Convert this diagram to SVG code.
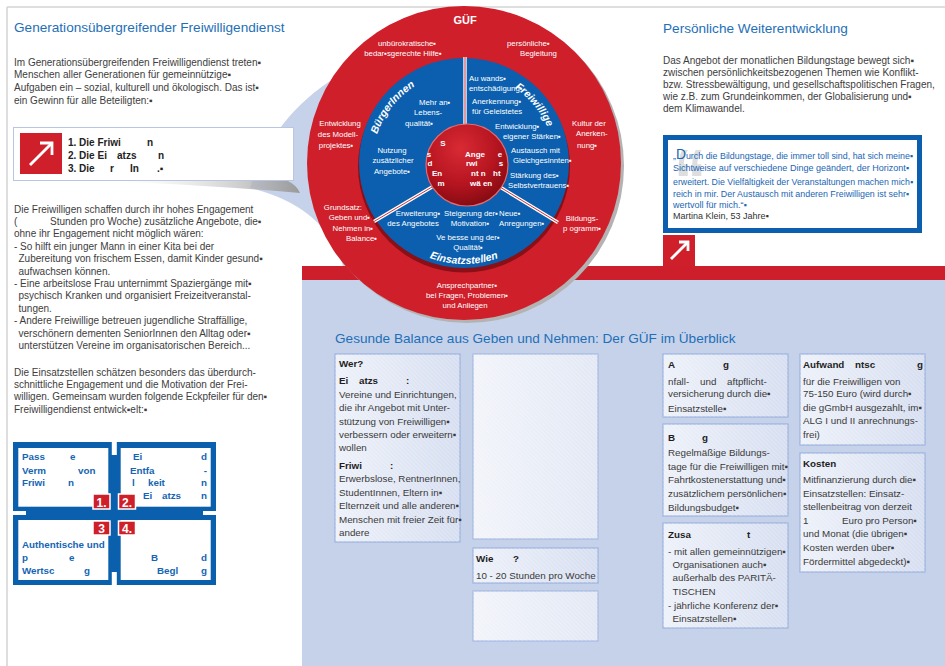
<svg xmlns="http://www.w3.org/2000/svg" width="945" height="666" viewBox="0 0 945 666">
<defs>
<style>
text{font-family:"Liberation Sans",Arial,sans-serif}
.h{font-size:13.6px;fill:#1e6fb7}
.p{font-size:10px;fill:#3d3d3d}
.n{font-size:10px;font-weight:bold;fill:#222}
.g{font-size:9.8px;font-weight:bold;fill:#1565b3}
.w{font-size:7.8px;fill:#fff}
.wb{font-size:8px;font-weight:bold;fill:#fff}
.c{text-anchor:middle}
.e{text-anchor:end}
.q{font-size:9px;fill:#1a66b4}
.t{font-size:9.8px;fill:#3a3a3a}
.th{font-size:9.8px;font-weight:bold;fill:#1e1e1e}
.arc{font-size:10.5px;font-weight:bold;font-style:italic;fill:#fff}
.bf{fill:url(#boxg);stroke:#9cb2de;stroke-width:1.2}
.bh{fill:url(#hatch)}
.div{stroke:#fff;stroke-width:3.4;fill:none}
.divi{stroke:#c0202a;stroke-width:0.9;fill:none}
.arw{stroke:#fff;stroke-width:2.8;fill:none}
.badge{fill:#cf1f2b;stroke:#fff;stroke-width:1.5}
.bn{font-size:12px;font-weight:bold;fill:#fff;text-anchor:middle}
</style>
<linearGradient id="boxg" x1="0" y1="0" x2="1" y2="0">
<stop offset="0" stop-color="#edf1f9"/><stop offset="1" stop-color="#d6def0"/>
</linearGradient>
<linearGradient id="boxf" x1="0" y1="0" x2="1" y2="0">
<stop offset="0" stop-color="#f2f4fa"/><stop offset="1" stop-color="#e2e8f4"/>
</linearGradient>
<pattern id="hatch" width="3" height="3" patternUnits="userSpaceOnUse" patternTransform="rotate(-45)">
<line x1="0" y1="0" x2="0" y2="3" stroke="#ffffff" stroke-width="1" opacity="0.45"/>
</pattern>
<radialGradient id="inner" cx="0.42" cy="0.3" r="0.75">
<stop offset="0" stop-color="#d92a35"/><stop offset="0.6" stop-color="#b4141f"/><stop offset="1" stop-color="#7e0a10"/>
</radialGradient>
<linearGradient id="shad" x1="0" y1="0" x2="1" y2="0">
<stop offset="0" stop-color="#ffffff" stop-opacity="0"/><stop offset="1" stop-color="#9a9a9a"/>
</linearGradient>
<path id="pBurg" d="M 376.5 136.2 A 91 91 0 0 1 425.5 80.5"/>
<path id="pFrei" d="M 512.2 86.5 A 91 91 0 0 1 553.6 147.2"/>
<path id="pEins" d="M 413.5 250.5 A 101 101 0 0 0 514.5 250.5"/>
</defs>

<rect width="945" height="666" fill="#fff"/>

<g id="background">
<line x1="7" y1="7" x2="945" y2="7" stroke="#d3d3d3" stroke-width="1.5"/>
<line x1="7" y1="7" x2="7" y2="666" stroke="#d3d3d3" stroke-width="1.5"/>
<rect x="302" y="280" width="643" height="386" fill="#c6d2ea"/>
<rect x="302" y="266" width="643" height="14" fill="#cc1f2b"/>
<path d="M 250 188 C 265 140 295 100 345 72 L 470 72 L 470 266 L 343 266 C 330 225 300 200 250 188 Z" fill="#c6d2ea"/>
</g>

<g id="intro">
<text class="h" x="14" y="32">Generationsübergreifender Freiwilligendienst</text>
<text class="p" x="14" y="65.5">Im Generationsübergreifenden Freiwilligendienst treten▪</text>
<text class="p" x="14" y="78">Menschen aller Generationen  für gemeinnützige▪</text>
<text class="p" x="14" y="91">Aufgaben ein – sozial, kulturell und ökologisch. Das ist▪</text>
<text class="p" x="14" y="104">ein Gewinn für alle Beteiligten:▪</text>
</g>

<g id="list-box">
<path d="M 100 181 L 288 181 C 294 184 298 188 300 193 C 230 187 160 183 100 181 Z" fill="url(#shad)"/>
<rect x="13.5" y="127.5" width="280" height="53" fill="#fff" stroke="#b9c6e2" stroke-width="1"/>
<rect x="20" y="133" width="42" height="41" fill="#cf1f2b"/>
<line class="arw" x1="30" y1="165" x2="52" y2="143"/>
<polyline class="arw" points="40,143 52,143 52,155"/>
<text class="n" x="68" y="146">1. Die Friwi</text><text class="n" x="147" y="146">n</text>
<text class="n" x="68" y="159">2. Die Ei</text><text class="n" x="117" y="159">atzs</text><text class="n" x="158" y="159">n</text>
<text class="n" x="68" y="172">3. Die</text><text class="n" x="110" y="172">r</text><text class="n" x="130" y="172">In</text><text class="n" x="157" y="172">.▪</text>
</g>

<g id="body-left">
<text class="p" x="14" y="212.5">Die Freiwilligen schaffen durch ihr hohes Engagement</text>
<text class="p" x="14" y="224.9">(</text><text class="p" x="50" y="224.9">Stunden pro Woche) zusätzliche Angebote, die▪</text>
<text class="p" x="14" y="237.3">ohne ihr Engagement nicht möglich wären:</text>
<text class="p" x="14" y="249.7">- So hilft ein junger Mann in einer Kita bei der</text>
<text class="p" x="18.5" y="262.1">Zubereitung von frischem Essen, damit Kinder gesund▪</text>
<text class="p" x="18.5" y="274.5">aufwachsen können.</text>
<text class="p" x="14" y="286.9">- Eine arbeitslose Frau unternimmt Spaziergänge mit▪</text>
<text class="p" x="18.5" y="299.3">psychisch Kranken und organisiert Freizeitveranstal-</text>
<text class="p" x="18.5" y="311.7">tungen.</text>
<text class="p" x="14" y="324.1">- Andere Freiwillige betreuen jugendliche Straffällige,</text>
<text class="p" x="18.5" y="336.5">verschönern dementen SeniorInnen den Alltag oder▪</text>
<text class="p" x="18.5" y="348.9">unterstützen Vereine im organisatorischen Bereich...</text>
<text class="p" x="14" y="375.5">Die Einsatzstellen schätzen besonders das überdurch-</text>
<text class="p" x="14" y="387.9">schnittliche Engagement und die Motivation der Frei-</text>
<text class="p" x="14" y="400.3">willigen. Gemeinsam wurden folgende Eckpfeiler für den▪</text>
<text class="p" x="14" y="412.7">Freiwilligendienst entwick▪elt:▪</text>
</g>

<g id="pillars">
<rect x="13" y="442" width="203" height="143" fill="#0b60ae"/>
<rect x="111.8" y="442" width="5" height="13" fill="#fff"/>
<rect x="111.8" y="572" width="5" height="13" fill="#fff"/>
<rect x="13" y="511" width="13" height="4" fill="#fff"/>
<rect x="203" y="511" width="13" height="4" fill="#fff"/>
<rect x="18.3" y="448" width="90" height="58.7" fill="#fff"/>
<rect x="120.7" y="448" width="90" height="58.7" fill="#fff"/>
<rect x="18.3" y="520" width="90" height="60" fill="#fff"/>
<rect x="120.7" y="520" width="90" height="60" fill="#fff"/>
<rect class="badge" x="93" y="494" width="17" height="15"/><text class="bn" x="101.5" y="506.5">1.</text>
<rect class="badge" x="118.5" y="494" width="17" height="15"/><text class="bn" x="127" y="506.5">2.</text>
<rect class="badge" x="93" y="521" width="17" height="14"/><text class="bn" x="101.5" y="532.5">3</text>
<rect class="badge" x="118.5" y="521" width="17" height="14"/><text class="bn" x="127" y="532.5">4.</text>
<text class="g" x="22" y="460">Pass</text><text class="g" x="70" y="460">e</text>
<text class="g" x="22" y="473.5">Verm</text><text class="g" x="78" y="473.5">von</text>
<text class="g" x="22" y="486">Friwi</text><text class="g" x="68" y="486">n</text>
<text class="g" x="133" y="460">Ei</text><text class="g e" x="207" y="460">d</text>
<text class="g" x="130" y="473.5">Entfa</text><text class="g e" x="207" y="473.5">-</text>
<text class="g" x="132" y="486">l</text><text class="g" x="148" y="486">keit</text><text class="g e" x="207" y="486">n</text>
<text class="g" x="143" y="498.5">Ei</text><text class="g" x="162" y="498.5">atzs</text><text class="g e" x="207" y="498.5">n</text>
<text class="g" x="22" y="548">Authentische und</text>
<text class="g" x="22" y="560.5">p</text><text class="g" x="69" y="560.5">e</text>
<text class="g" x="22" y="573.5">Wertsc</text><text class="g" x="84" y="573.5">g</text>
<text class="g" x="151" y="560.5">B</text><text class="g e" x="207" y="560.5">d</text>
<text class="g" x="157" y="573.5">Begl</text><text class="g e" x="207" y="573.5">g</text>
</g>

<g id="circle">
<circle cx="467" cy="166" r="157" fill="#b3b3b3"/>
<circle cx="464" cy="163" r="157" fill="#cf1f2b"/>
<circle cx="464" cy="166.5" r="106" fill="#8a0f16"/>
<circle cx="464" cy="163" r="105" fill="#0b5fae"/>
<text x="465" y="24" class="c" font-size="11" font-weight="bold" fill="#fff">GÜF</text>
</g>

<g id="connectors">
<line class="div" x1="465" y1="57" x2="465" y2="126"/>
<line class="divi" x1="465" y1="57" x2="465" y2="126"/>
<line class="div" x1="374" y1="221.5" x2="432" y2="187"/>
<line class="divi" x1="374" y1="221.5" x2="432" y2="187"/>
<line class="div" x1="500" y1="187" x2="558" y2="222.5"/>
<line class="divi" x1="500" y1="187" x2="558" y2="222.5"/>
</g>

<g id="core">
<circle cx="467" cy="165" r="41" fill="url(#inner)" stroke="#e46a70" stroke-width="1.2"/>
<text class="wb c" x="443" y="146">S</text>
<text class="wb c" x="429" y="157">s</text>
<text class="wb c" x="430" y="166">d</text>
<text class="wb" x="432" y="176">En</text>
<text class="wb c" x="441" y="186">m</text>
<text class="wb" x="465" y="157">Ange</text><text class="wb c" x="500" y="157">e</text>
<text class="wb" x="466" y="166">rwi</text><text class="wb c" x="501" y="166">s</text>
<text class="wb" x="471" y="176">nt n</text><text class="wb" x="493" y="176">ht</text>
<text class="wb" x="470" y="186">wä en</text>
</g>

<g id="ring-buergerinnen">
<text class="arc"><textPath href="#pBurg" startOffset="2">BürgerInnen</textPath></text>
<text class="w" x="419" y="105">Mehr an▪</text>
<text class="w" x="414" y="115">Lebens-</text>
<text class="w" x="405" y="126">qualität▪</text>
<text class="w c" x="392" y="153">Nutzung</text>
<text class="w c" x="393" y="163">zusätzlicher</text>
<text class="w c" x="392" y="174">Angebote▪</text>
</g>

<g id="ring-freiwillige">
<text class="arc"><textPath href="#pFrei" startOffset="3">Freiwillige</textPath></text>
<text class="w" x="469" y="81">Au wands▪</text>
<text class="w" x="469" y="91">entschädigung▪</text>
<text class="w" x="472" y="104">Anerkennung▪</text>
<text class="w" x="472" y="114">für Geleistetes</text>
<text class="w" x="495" y="129">Entwicklung▪</text>
<text class="w" x="503" y="139">eigener Stärken▪</text>
<text class="w" x="511" y="153">Austausch mit</text>
<text class="w" x="513" y="163">Gleichgesinnten▪</text>
<text class="w" x="510" y="178">Stärkung des▪</text>
<text class="w" x="508" y="188">Selbstvertrauens▪</text>
</g>

<g id="ring-einsatzstellen">
<text class="arc c"><textPath href="#pEins" startOffset="50%">Einsatzstellen</textPath></text>
<text class="w c" x="418" y="216">Erweiterung▪</text>
<text class="w c" x="413" y="226">des Angebotes</text>
<text class="w c" x="471" y="216">Steigerung der▪</text>
<text class="w c" x="470" y="226">Motivation▪</text>
<text class="w" x="499" y="216">Neue▪</text>
<text class="w" x="499" y="226">Anregungen▪</text>
<text class="w c" x="468" y="240">Ve besse ung der▪</text>
<text class="w c" x="468" y="250">Qualität▪</text>
</g>

<g id="ring-guef">
<text class="w c" x="407" y="46">unbürokratische▪</text>
<text class="w c" x="403" y="56">bedar▪sgerechte Hilfe▪</text>
<text class="w" x="507" y="46">persönliche▪</text>
<text class="w" x="520" y="56">Begleitung</text>
<text class="w c" x="340" y="126">Entwicklung</text>
<text class="w c" x="338" y="137">des Modell-</text>
<text class="w c" x="336" y="148">projektes▪</text>
<text class="w" x="572" y="126">Kultur der</text>
<text class="w" x="576" y="136">Anerken-</text>
<text class="w" x="577" y="148">nung▪</text>
<text class="w e" x="362" y="210">Grundsatz:</text>
<text class="w e" x="370" y="220">Geben und▪</text>
<text class="w e" x="373" y="231">Nehmen in▪</text>
<text class="w e" x="377" y="241">Balance▪</text>
<text class="w c" x="582" y="221">Bildungs-</text>
<text class="w c" x="582" y="231">p ogramm▪</text>
<text class="w c" x="467" y="288">Ansprechpartner▪</text>
<text class="w c" x="467" y="298">bei Fragen, Problemen▪</text>
<text class="w c" x="465" y="308">und Anliegen</text>
</g>

<g id="weiterentwicklung">
<text class="h" x="663" y="33">Persönliche Weiterentwicklung</text>
<text class="p" x="663" y="63.5" font-size="9.3">Das Angebot der monatlichen Bildungstage bewegt sich▪</text>
<text class="p" x="663" y="75.5" font-size="9.3">zwischen persönlichkeitsbezogenen Themen wie Konflikt-</text>
<text class="p" x="663" y="87.5" font-size="9.3">bzw. Stressbewältigung, und gesellschaftspolitischen Fragen,</text>
<text class="p" x="663" y="99.5" font-size="9.3">wie z.B. zum Grundeinkommen, der Globalisierung und▪</text>
<text class="p" x="663" y="111.5" font-size="9.3">dem Klimawandel.</text>
</g>

<g id="quote">
<rect x="663" y="135" width="259" height="98" fill="#0b5fae"/>
<rect x="668" y="140" width="249" height="88" fill="#fff"/>
<text x="963" y="214" font-size="92" font-weight="bold" fill="#dedede" transform="scale(0.7,1)">“</text>
<text class="q" x="673" y="158.5" textLength="240" lengthAdjust="spacingAndGlyphs">„<tspan font-size="14">D</tspan>urch die Bildungstage, die immer toll sind, hat sich meine▪</text>
<text class="q" x="673" y="171" textLength="236" lengthAdjust="spacingAndGlyphs">Sichtweise auf verschiedene Dinge geändert, der Horizont▪</text>
<text class="q" x="673" y="184.5" textLength="240" lengthAdjust="spacingAndGlyphs">erweitert. Die Vielfältigkeit der Veranstaltungen machen mich▪</text>
<text class="q" x="673" y="196.5" textLength="236" lengthAdjust="spacingAndGlyphs">reich in mir. Der Austausch mit anderen Freiwilligen ist sehr▪</text>
<text class="q" x="673" y="207.5">wertvoll für mich.“▪</text>
<text x="673" y="219" font-size="9" fill="#333">Martina Klein, 53 Jahre▪</text>
<rect x="663" y="235" width="32" height="31" fill="#cf1f2b"/>
<line class="arw" x1="671" y1="259" x2="688" y2="242"/>
<polyline class="arw" points="679,242 688,242 688,251"/>
</g>

<g id="overview-title">
<text class="h" x="335" y="343" font-size="13.2">Gesunde Balance aus Geben und Nehmen: Der GÜF im Überblick</text>
</g>

<g id="box-wer">
<rect class="bf" x="335" y="354" width="125" height="188"/><rect class="bh" x="335" y="354" width="125" height="188"/>
<text class="th" x="339" y="367">Wer?</text>
<text class="th" x="339" y="384">Ei</text><text class="th" x="359" y="384">atzs</text><text class="th" x="406" y="384">:</text>
<text class="t" x="339" y="397.5">Vereine und Einrichtungen,</text>
<text class="t" x="339" y="411">die ihr Angebot mit Unter-</text>
<text class="t" x="339" y="424.5">stützung von Freiwilligen▪</text>
<text class="t" x="339" y="437.5">verbessern oder erweitern▪</text>
<text class="t" x="339" y="451">wollen</text>
<text class="th" x="339" y="468.5">Friwi</text><text class="th" x="390" y="468.5">:</text>
<text class="t" x="339" y="482">Erwerbslose, RentnerInnen,</text>
<text class="t" x="339" y="495.5">StudentInnen, Eltern in▪</text>
<text class="t" x="339" y="509">Elternzeit und alle anderen▪</text>
<text class="t" x="339" y="522.5">Menschen mit freier Zeit für▪</text>
<text class="t" x="339" y="536">andere</text>
</g>

<g id="box-faded-1">
<rect x="473" y="354" width="125" height="185" fill="url(#boxf)" stroke="#a5b9e2" stroke-width="1.2"/><rect class="bh" x="473" y="354" width="125" height="185"/>
</g>

<g id="box-wie">
<rect class="bf" x="473" y="548" width="125" height="35"/><rect class="bh" x="473" y="548" width="125" height="35"/>
<text class="th" x="476" y="561.5">Wie</text><text class="th" x="513" y="561.5">?</text>
<text class="t" x="476" y="578.5">10 - 20 Stunden pro Woche</text>
</g>

<g id="box-faded-2">
<rect x="473" y="591" width="125" height="50" fill="url(#boxf)" stroke="#a5b9e2" stroke-width="1.2"/><rect class="bh" x="473" y="591" width="125" height="50"/>
</g>

<g id="box-a">
<rect class="bf" x="663" y="354" width="125" height="63"/><rect class="bh" x="663" y="354" width="125" height="63"/>
<text class="th" x="668" y="367.5">A</text><text class="th" x="723" y="367.5">g</text>
<text class="t" x="668" y="384.5">nfall-</text><text class="t" x="700" y="384.5">und</text><text class="t" x="727" y="384.5">aftpflicht-</text>
<text class="t" x="668" y="397">versicherung durch die▪</text>
<text class="t" x="668" y="411.5">Einsatzstelle▪</text>
</g>

<g id="box-b">
<rect class="bf" x="663" y="424" width="125" height="92"/><rect class="bh" x="663" y="424" width="125" height="92"/>
<text class="th" x="668" y="440.5">B</text><text class="th" x="702" y="440.5">g</text>
<text class="t" x="668" y="455.5">Regelmäßige Bildungs-</text>
<text class="t" x="668" y="469.5">tage für die Freiwilligen mit▪</text>
<text class="t" x="668" y="482.5">Fahrtkostenerstattung und▪</text>
<text class="t" x="668" y="496.5">zusätzlichem persönlichen▪</text>
<text class="t" x="668" y="510.5">Bildungsbudget▪</text>
</g>

<g id="box-zusa">
<rect class="bf" x="663" y="523" width="125" height="105"/><rect class="bh" x="663" y="523" width="125" height="105"/>
<text class="th" x="668" y="537.5">Zusa</text><text class="th" x="747" y="537.5">t</text>
<text class="t" x="668" y="554.5">- mit allen gemeinnützigen▪</text>
<text class="t" x="672.5" y="567.5">Organisationen auch▪</text>
<text class="t" x="672.5" y="580.5">außerhalb des PARITÄ-</text>
<text class="t" x="672.5" y="594.5">TISCHEN</text>
<text class="t" x="668" y="608.5">- jährliche Konferenz der▪</text>
<text class="t" x="672.5" y="621.5">Einsatzstellen▪</text>
</g>

<g id="box-aufwand">
<rect class="bf" x="800" y="354" width="125" height="91"/><rect class="bh" x="800" y="354" width="125" height="91"/>
<text class="th" x="803" y="367.5">Aufwand</text><text class="th" x="855" y="367.5">ntsc</text><text class="th" x="917" y="367.5">g</text>
<text class="t" x="803" y="384.5">für die Freiwilligen von</text>
<text class="t" x="803" y="397">75-150 Euro (wird durch▪</text>
<text class="t" x="803" y="410.5">die gGmbH ausgezahlt, im▪</text>
<text class="t" x="803" y="423.5">ALG I und II anrechnungs-</text>
<text class="t" x="803" y="437.5">frei)</text>
</g>

<g id="box-kosten">
<rect class="bf" x="800" y="453" width="125" height="119"/><rect class="bh" x="800" y="453" width="125" height="119"/>
<text class="th" x="803" y="466.5">Kosten</text>
<text class="t" x="803" y="482.5">Mitfinanzierung durch die▪</text>
<text class="t" x="803" y="496.5">Einsatzstellen: Einsatz-</text>
<text class="t" x="803" y="509.5">stellenbeitrag von derzeit</text>
<text class="t" x="803" y="523.5">1</text><text class="t" x="842" y="523.5">Euro pro Person▪</text>
<text class="t" x="803" y="536.5">und Monat (die übrigen▪</text>
<text class="t" x="803" y="550.5">Kosten werden über▪</text>
<text class="t" x="803" y="564.5">Fördermittel abgedeckt)▪</text>
</g>
</svg>
